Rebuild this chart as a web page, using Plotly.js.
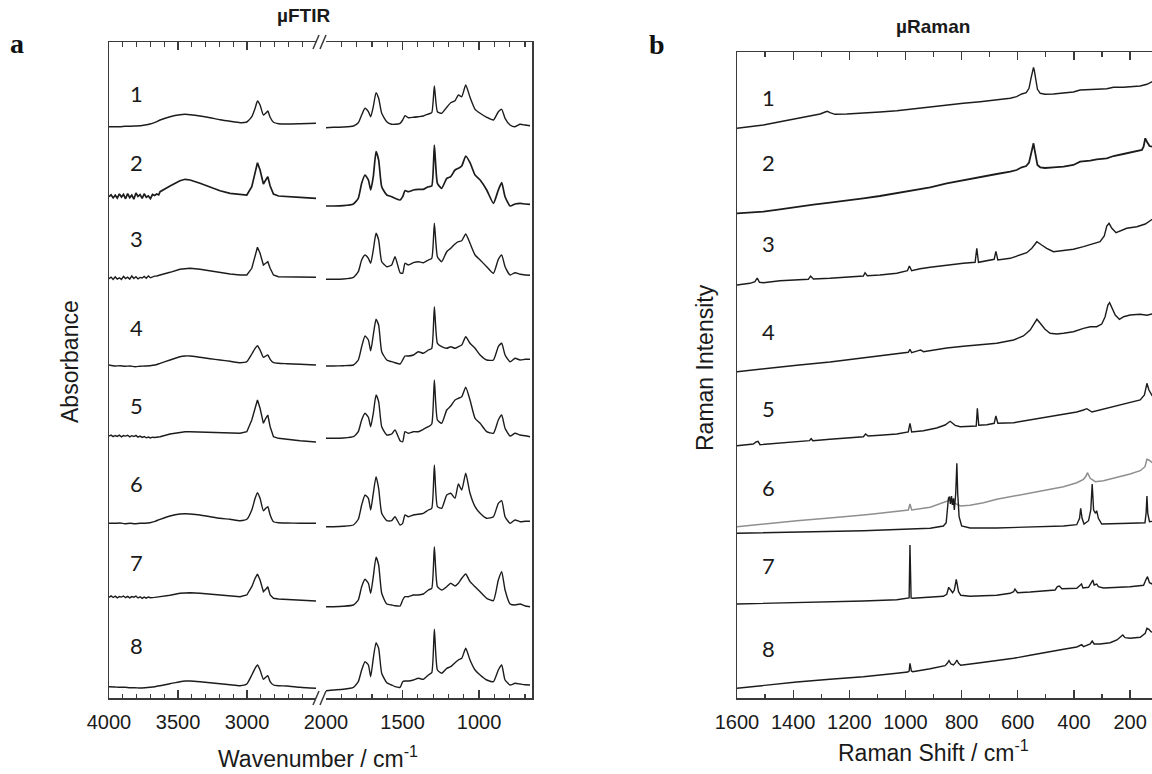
<!DOCTYPE html>
<html><head><meta charset="utf-8">
<script src="https://cdn.plot.ly/plotly-3.0.1.min.js"></script>
<style>html,body{margin:0;padding:0;background:#fff}#chart{width:1152px;height:774px}</style>
</head><body><div id="chart"></div>
<script>
// ---------- µFTIR data (wavenumber, cm-1) ----------
const ftirLeftX = [4000,3957,3920,3884,3848,3812,3775,3739,3703,3667,3630,3558,3486,3449,3413,3341,3268,3196,3123,3051,3002,2966,2942,2925,2906,2882,2865,2850,2833,2809,2773,2713,2616,2500];
const ftirRightX = [2000,1952,1887,1821,1789,1767,1745,1723,1708,1691,1673,1656,1636,1603,1571,1549,1516,1499,1484,1462,1429,1397,1364,1331,1309,1292,1272,1244,1211,1185,1157,1135,1113,1087,1059,1026,993,950,906,874,852,830,797,765,732,699,667];
// fine-grained noisy start (4000-3640 cm-1) of spectra 2, 3, 5, 7
const ftirNoiseX = [4000,3985,3970,3955,3940,3925,3910,3895,3880,3865,3850,3835,3820,3805,3790,3775,3760,3745,3730,3715,3700,3685,3670,3655,3640];
const ftirNoise2 = [5.3,7.2,4.1,6.8,3.9,8.1,5.0,7.6,3.2,8.4,4.4,6.9,2.8,9.0,5.5,7.3,3.6,8.2,4.7,6.1,3.3,7.5,6.4,8.0,7.2];
const ftirNoise3 = [3.3,4.9,2.5,5.1,3.0,4.2,2.6,5.6,3.4,4.8,2.9,6.0,3.5,5.2,3.1,4.6,4.0,5.5,3.8,6.1,4.2,5.3,5.9,6.0,6.4];
const ftirNoise5 = [2.0,2.9,1.4,2.5,1.6,2.8,1.2,2.4,1.9,2.7,1.1,2.3,1.5,2.6,0.9,1.9,0.6,1.5,0.2,1.0,0.1,0.8,0.5,0.9,1.1];
const ftirNoise7 = [0.7,2.1,0.5,1.8,0.2,1.5,0.9,2.0,0.3,1.6,0.1,1.4,0.8,1.9,0.0,1.2,-0.4,0.9,-0.2,1.0,0.3,0.8,0.6,0.9,1.1];

const ftirL1 = [3.3,3.3,3.3,3.7,3.7,4,4.3,5,6,7.7,10,13.3,15.3,15.7,15.3,14,12.3,10.3,8.7,7.3,8,13.3,21.7,29,25,15,16.7,19,12.7,7.7,6.3,6,6.3,6.7];
const ftirR1 = [2.3,2.7,3,4,7.3,15,21.7,18.3,13.3,23.3,37.3,31.7,16.7,8.3,5.7,5.7,6.7,10,14.3,12.3,12.7,13.3,14,16,17.3,44,18.3,16.7,22.7,27.3,29.3,35,33.3,45,32.7,20.7,16.7,12.7,10,18.3,20.7,11.7,5,3.3,5.7,5,4.3];
const ftirL2 = [5.3,7,4.7,8,3.7,8.7,5.3,7,3.3,8,10.3,16,21.3,22.7,22,18.7,14.7,11.3,8.7,7.3,7,15.3,28.7,39.3,32,18,22,25.3,16,8,6,5.3,4.7,3.7];
const ftirR2 = [-4,-4,-3.7,-2,3.7,18.7,27,22,12,25.3,50.3,42,15.3,7,5.3,3.7,2,5.3,11.3,10.3,12,12.7,12.7,15.3,16,57,18.7,13.7,23.7,25.3,32,33.7,36,46,39.3,27,22,12,-1.3,12,19.3,5.3,-4,-2,-1.3,-2,-2.3];
const ftirL3 = [3.3,4.7,2.7,5.3,3,6,3.3,5.3,4,6,7,9.7,12.7,13.3,13.7,12.7,11,9.3,8,7,7,13.7,25.3,34.7,28.7,17,18.7,20.3,13.7,7,5.3,5.3,5,4.7];
const ftirR3 = [2.7,2.7,3,4.7,10.3,22,27,23.7,18.7,32,48.7,42,20.3,15.3,17,25.3,9.3,8.7,18.7,17,19.3,20.3,19.3,22,23.7,58.7,25.3,20.3,30.3,33.7,38,40.3,41.3,48,38.7,27,22,15.3,8.7,22.7,27,15.3,7,9.3,7.7,7,6.7];
const ftirL4 = [1,0,0.3,-0.3,0,-0.7,-0.3,0,0.3,1,2.7,6,9.3,10,10,8.7,7.3,6,4.7,3.3,4.3,12,17.7,20.3,16,8.7,10,11,6.7,3.3,2.7,2.3,1.7,1];
const ftirR4 = [0,0,0.3,1,6,19.3,30,26,15.3,31,46.7,41,14.3,6,4.3,3.3,2,6,10,10,11,14.3,12.7,16,17.7,59.3,22.7,19.3,17.7,19.3,17.7,19.3,21,29.3,22.7,17.7,11,6,6,19.3,22.7,11,4.3,7.7,6,6.7,6.7];
const ftirL5 = [2,2.7,1.3,2.3,1.7,2.7,1.3,0.7,0,0.7,1.3,4,6,6.3,6.3,6,5.7,5.3,5,4.7,6.3,18,29.7,38,29.7,14.7,19.7,23,11.3,1.3,-0.3,-1.3,-2.7,-4];
const ftirR5 = [-0.3,-0.3,0,1.3,6.3,18,24.7,20.7,11.3,24.7,43,36.3,11.3,3,4,8,-2.7,-3.7,6.3,4.7,6.3,6.3,8.7,11.3,14,58,18,14.7,28,32,38,39.7,41.3,50.7,38,19.7,14.7,6.3,4.7,18,23,9.7,2,4.7,3,2.3,1.3];
const ftirL6 = [-1.3,-1.3,-1,-1.7,-1.3,-1.7,-1.3,-1.3,-0.7,0.7,2.7,6,8,8.3,8,7,5.3,3.7,2.7,1.3,2.7,12,23.7,29.3,23.7,11.3,13.7,15.3,7,0.3,-0.7,-1,-1.3,-1.3];
const ftirR6 = [-4.7,-4.7,-4.3,-3,2.7,17,27,23.7,12,28.7,45.3,33.7,8.7,1.3,1.3,5.3,-3,-1.3,7,5.3,7,7.7,8.7,12,13.7,57,15.3,13.7,27,28.7,23.7,38,32,48.7,28.7,15.3,8.7,3.7,5.3,18.7,21.3,5.3,-1.3,2,0.3,0.7,0.7];
const ftirL7 = [0.7,2,0.7,1.7,0.3,1.3,0,0.7,-0.3,0.7,1.3,2.7,4.7,5.3,5.3,4.7,3.7,2.7,1.7,1.3,3,11.3,19.7,24,18,6.3,8.7,11.3,3,-0.3,-1,-1.3,-2,-3];
const ftirR7 = [-8.7,-8.7,-8.3,-7,-2,11.3,18.7,14.7,4.7,21.3,40.7,33,4.7,-6,-7,-7.7,-8,-2,1.3,1.3,3,3,4,8,9.7,51.3,11.3,8,11.3,14.7,12,14.7,19.7,24,16.3,11.3,6.3,-0.3,-2.7,18,26.3,8,-6,-7,-6,-8,-8.7];
const ftirL8 = [-0.7,-1,-1.3,-1.3,-1.7,-1.7,-2,-1.7,-1.3,-0.7,0.3,2.3,4.3,5,5,4.3,3.3,2.3,1.3,0.3,2,11,17.7,21,16,6.7,8.7,10.3,4.3,1,0.3,0,-1.3,-2.3];
const ftirR8 = [-4.7,-4,-3.3,-1.3,4.3,16,24.3,21,9.3,27.7,43.3,37.7,12.7,3.3,1,-0.7,-1.3,4.3,5,5,6,7.7,6.7,11,13.3,56.7,16,12.7,17.7,19.3,23.3,26,27.7,37.7,26,16,11,6,4.3,16,21,6,1,2.7,2,1.3,1];
const ftirOffsets = [568,496,416,332,260,176,100,12];

// ---------- µRaman data (Raman shift, cm-1) ----------
const ramX1 = [1600,1554,1506,1447,1387,1340,1304,1286,1278,1269,1251,1209,1150,1091,1031,972,912,853,794,734,675,627,604,586,570,560,553,548,544,541,536,530,520,503,473,437,402,378,342,319,283,259,224,200,164,140,121];
const ramY1 = [1.7,3.3,5,8.3,11.7,14,16,18,18.7,17.3,15.7,16,16.7,18,19.3,21.3,23.3,25,26.7,28.3,30,31.7,33.3,36,37.3,41.7,51.7,60,62.7,59.3,50,40.7,36.7,35.7,36,36.7,38,40,40,40.7,41.3,42.7,42.7,43.3,44,45.7,48.3];
const ramX2 = [1600,1554,1506,1447,1387,1328,1269,1209,1150,1091,1031,972,912,853,794,734,675,627,604,586,570,560,553,548,544,541,536,530,520,503,473,437,402,378,342,319,283,259,224,200,176,158,152,146,140,131,121];
const ramY2 = [0.7,1.3,2.3,4.7,7.3,9.3,11.3,13.3,15.7,18,20.7,23.3,26.7,30.7,34,37.3,40,42.3,44,46.7,48,51.3,59,67.3,70.7,65.7,55.7,49,46.7,46,46.7,47.3,49,52.3,53.3,54.7,55.7,58,60,61.3,62.7,64,67.3,75.7,72.3,68,67.3];
const ramX3 = [1600,1554,1536,1528,1520,1506,1447,1387,1346,1338,1328,1269,1209,1150,1144,1136,1091,1031,993,986,978,948,912,853,794,752,746,740,710,684,678,671,627,592,568,550,532,515,497,473,437,402,366,330,307,292,283,275,265,250,235,212,176,146,121];
const ramY3 = [1,2.7,4.3,8,3.7,3.3,5.3,6,6.7,10,7,7.7,8.7,10,13.3,10.3,11,12.7,15.3,20,15.3,17.3,18.7,21,22.7,23.7,37.7,23.7,25,26.7,34.7,26,27.7,31,33.3,37.7,44.3,41,37.7,34.3,35.3,36.7,39.3,42,44.3,50,60,62.7,57.7,53.3,55.3,57.7,59.3,62,66.7];
const ramX4 = [1600,1506,1387,1269,1150,1031,990,984,978,954,946,936,889,853,794,734,675,615,580,556,542,532,520,503,485,461,437,402,366,342,319,301,289,279,273,265,253,238,223,200,164,140,121];
const ramY4 = [-1.7,1.3,4.7,8,12,16,17.7,20.7,17.3,19.3,20,18.3,20.7,22,23.7,25,26.7,30,34,40,46.7,50.7,46.7,40.7,36.7,36,36.7,38.3,41.7,43.3,43.3,46,53.3,65,67.3,61.7,55,50.7,53.3,55,55.7,54.7,56];
const ramX5 = [1600,1542,1532,1525,1518,1447,1387,1342,1336,1330,1269,1209,1150,1142,1133,1091,1031,990,984,978,936,889,859,841,823,805,770,748,744,739,710,684,678,671,615,556,497,437,390,366,354,336,307,259,200,164,149,140,133,121];
const ramY5 = [-3.7,-2,0,0.7,-2.7,-1.3,0,1.3,3.3,1.3,2.7,4,5.3,8,6,6.7,8,10,18.7,10,11.3,14,17,20.7,16.7,15.3,15.3,16,33.7,16.7,17.3,18.7,26,18.7,19.3,22,24.7,27.3,30,32,33.3,30,32,35.3,39.3,42,47,58.7,52,46];
const ramX6g = [1600,1506,1447,1387,1281,1209,1150,1091,1031,990,984,978,912,865,841,823,805,770,722,675,615,556,497,437,390,366,357,352,342,324,295,259,200,164,147,140,133,121];
const ramY6g = [7.3,10,11.3,13.3,15.7,17.3,19,20.7,22.7,24,30,24,26.7,31.3,34,30.7,28,28.7,31.3,34.7,38,40.7,44,47.3,51.3,54.7,58,61.3,55.7,52.3,53.3,55.7,60,63.3,67.3,74.7,74,71.3];
const ramX6k = [1600,1387,1150,912,865,855,851,847,843,840,836,833,829,826,821,817,814,809,800,770,675,556,437,390,380,376,371,364,348,340,335,330,323,319,313,301,259,200,147,143,140,137,131,121];
const ramY6k = [0.7,2,3.3,5.7,8,11.3,20.7,35.7,37.3,30,38,29,35.7,24,40.7,70.7,40.7,17.3,8,6,6,6.7,8,9.3,15.7,25.7,15.7,10,13.3,24,50,24,20.7,23.3,15.7,10,10,10.7,11.3,20.7,38,20.7,12.3,12.7];
const ramX7 = [1600,1387,1150,1031,993,987,984,980,974,912,865,853,846,839,832,826,819,811,803,770,675,627,615,610,601,556,467,459,452,443,390,378,373,368,348,336,333,328,319,313,295,200,152,143,138,131,121];
const ramY7 = [-2,-0.7,1,2.3,3.3,4,57,4,3.7,4.7,5.7,7.7,14.7,12,9.3,12,22.7,10.3,6.7,5.7,6.7,8.7,10.3,13,9.3,10,12,15.3,16,13.3,13.7,16.7,18,14,14.7,20.3,22,17,18,15.3,14,15.3,16.7,22.7,25.3,19.3,18];
const ramX8 = [1600,1506,1387,1269,1150,1031,992,987,984,979,974,912,859,851,845,838,829,822,817,811,803,734,675,615,556,497,437,390,378,372,366,342,335,328,307,271,247,233,226,218,200,164,146,140,133,126,121];
const ramY8 = [1.7,4.7,8,10.7,13.3,16.7,18,19,26.7,19,18.3,21.3,24.3,26.7,29.3,26,25,27.3,30,26.7,24.7,27.3,29.3,31.7,34.7,37.3,40.7,43,44.3,45.3,43.3,46,49,46,46,47.3,50,54,55,52.3,51.7,52.7,56.7,61.7,60.7,58.3,58];
const ramOffsets = [568,484,412,328,256,164,96,8];

const spectrumLabels = ['1','2','3','4','5','6','7','8'];
const ftirTicks = {left:[4000,3500,3000], right:[2000,1500,1000]};

// ---------- build ----------
const W = 1152, H = 774;
const fx = p => p / W, fy = p => 1 - p / H;
const ink = '#1c1c1c', axisInk = '#3a3a3a';

const ftirL = [ftirL1,ftirL2,ftirL3,ftirL4,ftirL5,ftirL6,ftirL7,ftirL8];
const ftirR = [ftirR1,ftirR2,ftirR3,ftirR4,ftirR5,ftirR6,ftirR7,ftirR8];
const noisy = {1:ftirNoise2, 2:ftirNoise3, 4:ftirNoise5, 6:ftirNoise7};
const ramX = [ramX1,ramX2,ramX3,ramX4,ramX5,ramX6k,ramX7,ramX8];
const ramY = [ramY1,ramY2,ramY3,ramY4,ramY5,ramY6k,ramY7,ramY8];

const traces = [];
for (let k = 0; k < 8; k++) {
  const lw = (k === 1) ? 1.7 : 1.4;
  let lx = ftirLeftX, ly = ftirL[k];
  if (noisy[k]) {
    const keep = ftirLeftX.map((w, i) => i).filter(i => ftirLeftX[i] < 3640);
    lx = ftirNoiseX.concat(keep.map(i => ftirLeftX[i]));
    ly = noisy[k].concat(keep.map(i => ftirL[k][i]));
  }
  traces.push({x: lx, y: ly.map(v => v + ftirOffsets[k]), xaxis:'x', yaxis:'y',
    mode:'lines', line:{color:ink, width:lw, shape: noisy[k] ? 'linear' : 'spline', smoothing:0.5}, hoverinfo:'skip'});
  traces.push({x: ftirRightX, y: ftirR[k].map(v => v + ftirOffsets[k]), xaxis:'x2', yaxis:'y2',
    mode:'lines', line:{color:ink, width:lw, shape:'spline', smoothing:0.5}, hoverinfo:'skip'});
}
traces.push({x: ramX6g, y: ramY6g.map(v => v + ramOffsets[5]), xaxis:'x3', yaxis:'y3',
  mode:'lines', line:{color:'#8f8f8f', width:1.5}, hoverinfo:'skip'});
for (let k = 0; k < 8; k++) {
  traces.push({x: ramX[k], y: ramY[k].map(v => v + ramOffsets[k]), xaxis:'x3', yaxis:'y3',
    mode:'lines', line:{color:ink, width:(k === 1) ? 1.8 : 1.4}, hoverinfo:'skip'});
}

const tickFont = {family:'Liberation Sans, Arial, sans-serif', size:20, color:'#1a1a1a'};
const xCommon = {showline:true, linecolor:axisInk, linewidth:1.5, mirror:'ticks', ticks:'inside',
  ticklen:8, tickwidth:1.3, tickcolor:axisInk, showgrid:false, zeroline:false, tickfont:tickFont,
  ticklabelstandoff:5, fixedrange:true,
  minor:{ticks:'inside', ticklen:4.5, tickwidth:1.2, tickcolor:axisInk, showgrid:false, dtick:100}};
// panel a is a little taller (top at 42 px) than panel b (top at 52 px); bottoms line up at 698 px
const ftirTop = 42, ramTop = 52, bottom = 698;
const yBase = {showline:true, linecolor:axisInk, linewidth:1.5,
  ticks:'', showticklabels:false, showgrid:false, zeroline:false, fixedrange:true};
const yFtir = Object.assign({}, yBase, {domain:[fy(bottom), fy(ftirTop)], range:[0, bottom - ftirTop]});
const yRam = Object.assign({}, yBase, {domain:[fy(bottom), fy(ramTop)], range:[0, bottom - ramTop]});

const layout = {
  width:W, height:H, margin:{l:0,r:0,t:0,b:0}, paper_bgcolor:'#fff', plot_bgcolor:'rgba(0,0,0,0)',
  showlegend:false,
  xaxis: Object.assign({}, xCommon, {domain:[fx(109), fx(316)], range:[4000, 2501], tickmode:'array', tickvals:ftirTicks.left, anchor:'y'}),
  xaxis2: Object.assign({}, xCommon, {domain:[fx(326), fx(532)], range:[2000, 654], tickmode:'array', tickvals:ftirTicks.right, anchor:'y2'}),
  xaxis3: Object.assign({}, xCommon, {domain:[fx(737), 1], range:[1600, 122], tick0:0, dtick:200, anchor:'y3'}),
  yaxis: Object.assign({}, yFtir, {anchor:'x'}),
  yaxis2: Object.assign({}, yFtir, {anchor:'x2', side:'right', overlaying:'y'}),
  yaxis3: Object.assign({}, yRam, {anchor:'x3'}),
  shapes: [],
  annotations: []
};

// axis-break marks
[ftirTop, bottom].forEach(yy => {
  [313, 320].forEach(x0 => {
    layout.shapes.push({type:'line', xref:'paper', yref:'paper', x0:fx(x0), y0:fy(yy+7), x1:fx(x0+6), y1:fy(yy-7),
      line:{color:axisInk, width:1.5}});
  });
});

const A = (text, x, y, font, extra) => layout.annotations.push(Object.assign({text, x:fx(x), y:fy(y),
  xref:'paper', yref:'paper', showarrow:false, xanchor:'center', yanchor:'middle', font}, extra || {}));
const arial = s => ({family:'Liberation Sans, Arial, sans-serif', size:s, color:'#1a1a1a'});
A('<b>\u00b5FTIR</b>', 303, 15, arial(19));
A('<b>\u00b5Raman</b>', 933, 26, arial(19));
A('<b>a</b>', 17, 44, {family:'Liberation Serif, DejaVu Serif, serif', size:28, color:'#111'});
A('<b>b</b>', 657, 45, {family:'Liberation Serif, DejaVu Serif, serif', size:28, color:'#111'});
A('Wavenumber / cm<sup>-1</sup>', 318, 757, arial(23));
A('Raman Shift / cm<sup>-1</sup>', 933, 751, arial(23));
A('Absorbance', 70, 362, arial(23), {textangle:-90});
A('Raman Intensity', 705, 368, arial(23), {textangle:-90});

const numFont = {family:'Lato, Open Sans, sans-serif', size:22, color:'#1a1a1a'};
const ftirLabelY = [93,162,238,327,405,483,562,645];
const ramLabelY = [97,163,243,332,408,487,565,648];
spectrumLabels.forEach((t, i) => { A(t, 136, ftirLabelY[i], numFont); A(t, 768, ramLabelY[i], numFont); });

Plotly.newPlot('chart', traces, layout, {staticPlot:true, displayModeBar:false});
</script></body></html>
